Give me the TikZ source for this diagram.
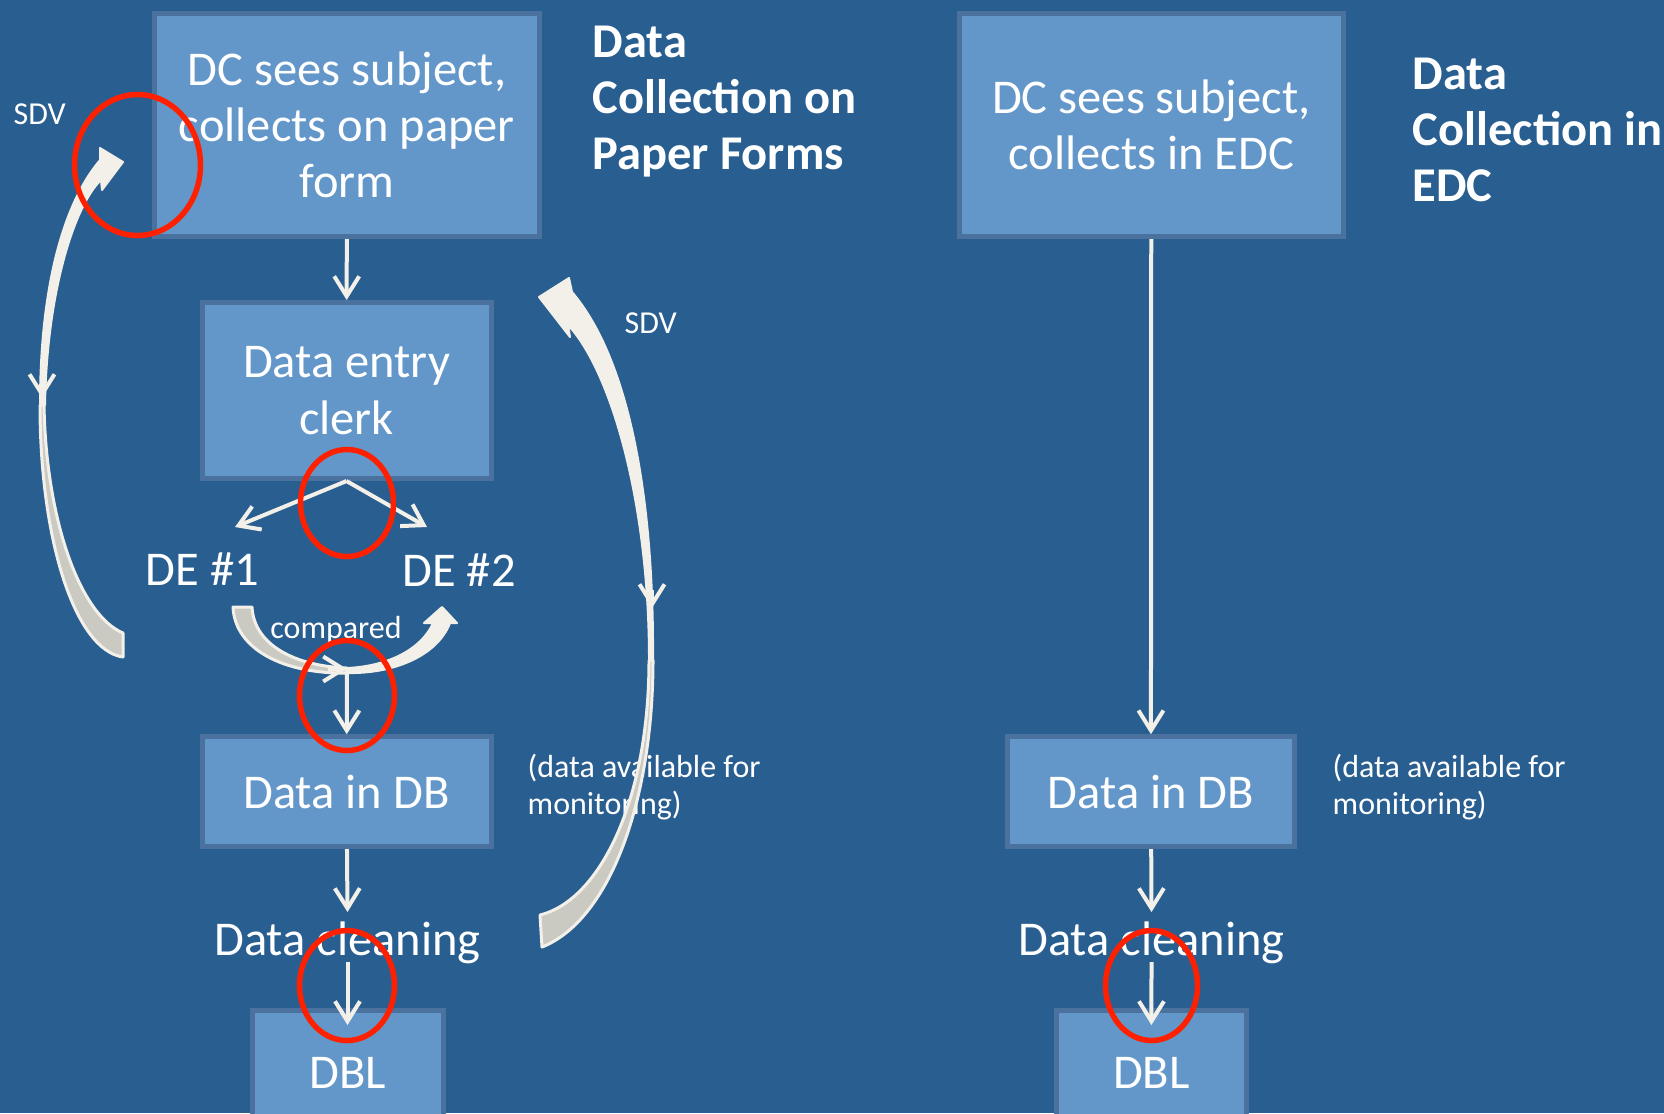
\documentclass[tikz,border=0pt]{standalone}
\usepackage{fontspec}
\setmainfont{Carlito}
\usepackage{xcolor}
\usepackage{tikz}
\usetikzlibrary{arrows.meta}
\usetikzlibrary{backgrounds}
\pgfdeclarelayer{edgelayer}
\pgfdeclarelayer{nodelayer}
\pgfsetlayers{background,nodelayer,edgelayer,main}
\definecolor{slide}{RGB}{41,94,145}
\definecolor{boxfill}{RGB}{99,151,201}
\definecolor{boxline}{RGB}{75,114,158}
\definecolor{cream}{RGB}{242,240,232}
\definecolor{shade}{RGB}{203,202,194}
\definecolor{ring}{RGB}{255,32,0}
\newcommand{\bigtext}{\fontsize{13.8}{16}\selectfont}
\newcommand{\smalltext}{\fontsize{9.1}{10.6}\selectfont}
\tikzstyle{box}=[draw=boxline,fill=boxfill,line width=0.05cm,text=white,align=center,inner sep=0mm,font=\bigtext]
\tikzstyle{words}=[inner sep=0mm,text=white,font=\bigtext]
\tikzstyle{heading}=[words,align=left,font=\bigtext\bfseries]
\tikzstyle{note}=[inner sep=0mm,text=white,font=\smalltext]
\tikzstyle{flow}=[draw=cream,line width=0.04cm,-{Straight Barb[length=0.2cm,width=0.25cm]}]
\tikzstyle{sdv face}=[fill=cream,draw=cream,line width=0.02cm,line join=round]
\tikzstyle{sdv back}=[fill=shade,draw=cream,line width=0.03cm,line join=round]
\tikzstyle{redring}=[draw=ring,line width=0.055cm]

\begin{document}
\begin{tikzpicture}
	\useasboundingbox (0, 0) rectangle (16.64, -11.13);
	\begin{pgfonlayer}{background}
		\fill [slide] (0, 0) rectangle (16.64, -11.13);
	\end{pgfonlayer}
	\begin{pgfonlayer}{nodelayer}
		% paper forms
		\node [style=box, minimum width=3.85cm, minimum height=2.23cm] (paper) at (3.47, -1.25) {DC sees subject,\\collects on paper\\form};
		\node [style=heading, anchor=north west] (hpaper) at (5.92, -0.25) {Data\\Collection on\\Paper Forms};
		\node [style=box, minimum width=2.89cm, minimum height=1.76cm] (clerk) at (3.465, -3.905) {Data entry\\clerk};
		\node [style=words, anchor=base] (de1) at (2.025, -5.85) {DE \#1};
		\node [style=words, anchor=base] (de2) at (4.59, -5.86) {DE \#2};
		\node [style=note, anchor=base] (cmp) at (3.36, -6.38) {compared};
		\node [style=box, minimum width=2.89cm, minimum height=1.10cm] (dbpaper) at (3.465, -7.917) {Data in DB};
		\node [style=words, anchor=base] (cleanpaper) at (3.475, -9.55) {Data cleaning};
		\node [style=box, minimum width=1.91cm, minimum height=1.25cm] (dblpaper) at (3.475, -10.73) {DBL};
		\node [style=note, anchor=base west] (sdvl) at (0.13, -1.24) {SDV};
		\node [style=note, anchor=base west] (sdvr) at (6.24, -3.33) {SDV};
		\node [style=note, align=left, anchor=north west] (monpaper) at (5.27, -7.53) {(data available for\\monitoring)};
		% EDC
		\node [style=box, minimum width=3.84cm, minimum height=2.23cm] (edc) at (11.513, -1.25) {DC sees subject,\\collects in EDC};
		\node [style=heading, anchor=north west] (hedc) at (14.12, -0.57) {Data\\Collection in\\EDC};
		\node [style=box, minimum width=2.87cm, minimum height=1.10cm] (dbedc) at (11.509, -7.917) {Data in DB};
		\node [style=words, anchor=base] (cleanedc) at (11.515, -9.55) {Data cleaning};
		\node [style=box, minimum width=1.90cm, minimum height=1.25cm] (dbledc) at (11.514, -10.73) {DBL};
		\node [style=note, align=left, anchor=north west] (monedc) at (13.32, -7.53) {(data available for\\monitoring)};
	\end{pgfonlayer}
	\begin{pgfonlayer}{edgelayer}
		\draw [style=flow] (paper) -- (clerk);
		\draw [style=flow] (clerk.south) -- ([shift={(0.325, 0.58)}]de1.base);
		\draw [style=flow] (clerk.south) -- ([shift={(-0.32, 0.59)}]de2.base);
		% compared band, DE #1 round to DE #2
		\filldraw [style=sdv back] (2.33, -6.07) .. controls (2.35, -6.50) and (2.85, -6.74) .. (3.47, -6.73) -- (3.47, -6.68) .. controls (2.95, -6.66) and (2.54, -6.45) .. (2.52, -6.07) -- cycle;
		\filldraw [style=sdv face] (3.47, -6.73) .. controls (3.95, -6.74) and (4.38, -6.55) .. (4.50, -6.23) -- (4.57, -6.23) -- (4.42, -6.07) -- (4.24, -6.23) -- (4.33, -6.23) .. controls (4.22, -6.48) and (3.90, -6.66) .. (3.47, -6.68) -- cycle;
		\coordinate (meet) at (3.47, -6.69);
		\draw [style=flow] (3.28, -6.69) -- (meet);
		\draw [style=flow] (meet) -- (dbpaper);
		\draw [style=flow] (dbpaper) -- ([yshift=0.43cm]cleanpaper.base);
		\draw [style=flow] ([yshift=-0.07cm]cleanpaper.base) -- ([yshift=-0.17cm]dblpaper.north);
		% left SDV loop
		\filldraw [style=sdv face] (0.40, -4.05) .. controls (0.40, -2.90) and (0.62, -2.05) .. (1.00, -1.60) -- (1.00, -1.48) -- (1.23, -1.62) -- (1.02, -1.90) -- (1.01, -1.80) .. controls (0.75, -2.05) and (0.47, -2.90) .. (0.45, -4.05) -- cycle;
		\filldraw [style=sdv back] (0.40, -4.05) .. controls (0.40, -5.40) and (0.75, -6.50) .. (1.23, -6.57) -- (1.23, -6.33) .. controls (0.80, -6.15) and (0.46, -5.20) .. (0.44, -4.05) -- cycle;
		\draw [style=flow] (0.42, -3.80) -- (0.42, -3.98);
		% right SDV loop
		\filldraw [style=sdv face] (6.53, -6.60) .. controls (6.54, -5.00) and (6.30, -3.60) .. (5.72, -2.92) -- (5.69, -2.78) -- (5.39, -2.97) -- (5.70, -3.37) -- (5.68, -3.25) .. controls (6.10, -3.70) and (6.49, -5.00) .. (6.49, -6.60) -- cycle;
		\filldraw [style=sdv back] (6.53, -6.60) .. controls (6.53, -8.00) and (6.10, -9.20) .. (5.42, -9.47) -- (5.40, -9.15) .. controls (6.00, -9.00) and (6.49, -8.00) .. (6.49, -6.60) -- cycle;
		\draw [style=flow] (6.52, -5.90) -- (6.52, -6.08);
		% EDC chain
		\draw [style=flow] (edc) -- (dbedc);
		\draw [style=flow] (dbedc) -- ([yshift=0.43cm]cleanedc.base);
		\draw [style=flow] ([yshift=-0.07cm]cleanedc.base) -- ([yshift=-0.17cm]dbledc.north);
	\end{pgfonlayer}
	% rings
	\draw [style=redring] (1.375, -1.65) ellipse [x radius=0.63, y radius=0.705];
	\draw [style=redring] (3.47, -5.03) ellipse [x radius=0.465, y radius=0.535];
	\draw [style=redring] (3.47, -6.955) ellipse [x radius=0.475, y radius=0.55];
	\draw [style=redring] (3.47, -9.855) ellipse [x radius=0.475, y radius=0.55];
	\draw [style=redring] (11.515, -9.855) ellipse [x radius=0.46, y radius=0.55];
\end{tikzpicture}
\end{document}
